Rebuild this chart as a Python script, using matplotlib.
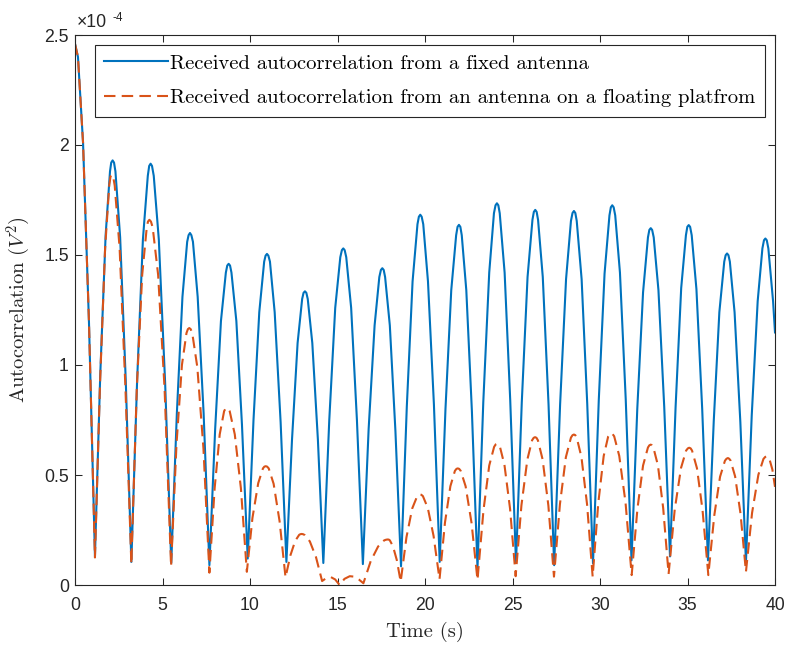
import numpy as np
import matplotlib
matplotlib.use('Agg')
import matplotlib.pyplot as plt

# ── data (values in units of 1e-4 V^2) ─────────────────────
blue_time = [0.00, 0.17, 0.46, 0.80, 1.14, 1.44, 1.75, 2.00, 2.07, 2.15, 2.23, 2.31, 2.58, 2.90,
             3.22, 3.55, 3.88, 4.16, 4.24, 4.32, 4.40, 4.50, 4.79, 5.15,
             5.50, 5.82, 6.14, 6.41, 6.49, 6.57, 6.65, 6.74, 7.01, 7.35,
             7.68, 8.01, 8.34, 8.62, 8.70, 8.78, 8.86, 8.94, 9.22, 9.54,
             9.87, 10.20, 10.53, 10.81, 10.89, 10.97, 11.05, 11.14, 11.41, 11.75,
             12.08, 12.40, 12.72, 12.98, 13.06, 13.14, 13.22, 13.30, 13.56, 13.88,
             14.19, 14.53, 14.87, 15.16, 15.25, 15.33, 15.41, 15.50, 15.78, 16.11,
             16.45, 16.78, 17.12, 17.39, 17.48, 17.56, 17.64, 17.72, 17.99, 18.31,
             18.63, 18.96, 19.29, 19.57, 19.65, 19.73, 19.81, 19.90, 20.17, 20.51,
             20.84, 21.17, 21.50, 21.78, 21.86, 21.94, 22.02, 22.10, 22.36, 22.68,
             23.00, 23.33, 23.67, 23.94, 24.03, 24.11, 24.19, 24.27, 24.55, 24.87,
             25.20, 25.53, 25.86, 26.14, 26.22, 26.30, 26.38, 26.46, 26.73, 27.06,
             27.38, 27.72, 28.06, 28.34, 28.43, 28.51, 28.59, 28.67, 28.95, 29.27,
             29.60, 29.93, 30.26, 30.54, 30.62, 30.70, 30.78, 30.87, 31.14, 31.47,
             31.80, 32.13, 32.46, 32.74, 32.82, 32.90, 32.98, 33.07, 33.34, 33.67,
             34.00, 34.32, 34.64, 34.91, 34.99, 35.07, 35.15, 35.24, 35.51, 35.84,
             36.17, 36.50, 36.82, 37.10, 37.18, 37.26, 37.34, 37.42, 37.69, 38.02,
             38.34, 38.67, 39.01, 39.28, 39.37, 39.45, 39.53, 39.62, 39.89, 40.00]
blue_val = [2.46, 2.40, 2.01, 1.19, 0.13, 0.95, 1.59, 1.88, 1.92, 1.93, 1.92, 1.88, 1.58, 0.93,
            0.105, 0.93, 1.57, 1.86, 1.905, 1.915, 1.905, 1.86, 1.57, 0.92,
            0.10, 0.78, 1.31, 1.56, 1.59, 1.60, 1.59, 1.56, 1.31, 0.78,
            0.09, 0.71, 1.20, 1.42, 1.452, 1.46, 1.452, 1.42, 1.20, 0.73,
            0.12, 0.75, 1.24, 1.47, 1.497, 1.505, 1.497, 1.47, 1.24, 0.74,
            0.105, 0.66, 1.10, 1.30, 1.328, 1.335, 1.328, 1.30, 1.10, 0.66,
            0.10, 0.75, 1.26, 1.49, 1.522, 1.53, 1.522, 1.49, 1.26, 0.75,
            0.095, 0.71, 1.18, 1.40, 1.432, 1.44, 1.432, 1.40, 1.18, 0.70,
            0.085, 0.81, 1.38, 1.64, 1.674, 1.683, 1.674, 1.64, 1.38, 0.82,
            0.105, 0.80, 1.34, 1.59, 1.628, 1.637, 1.628, 1.59, 1.34, 0.79,
            0.078, 0.83, 1.42, 1.69, 1.726, 1.735, 1.726, 1.69, 1.42, 0.84,
            0.10, 0.83, 1.40, 1.66, 1.696, 1.705, 1.696, 1.66, 1.40, 0.82,
            0.09, 0.82, 1.39, 1.655, 1.691, 1.70, 1.691, 1.655, 1.39, 0.825,
            0.098, 0.84, 1.415, 1.68, 1.717, 1.726, 1.717, 1.68, 1.42, 0.845,
            0.112, 0.80, 1.33, 1.58, 1.614, 1.622, 1.614, 1.58, 1.34, 0.81,
            0.13, 0.81, 1.35, 1.59, 1.628, 1.636, 1.628, 1.59, 1.345, 0.80,
            0.112, 0.745, 1.24, 1.47, 1.499, 1.507, 1.499, 1.47, 1.24, 0.74,
            0.105, 0.77, 1.29, 1.53, 1.567, 1.575, 1.567, 1.53, 1.29, 1.148]

orange_time = [0.00, 0.17, 0.46, 0.80, 1.14, 1.43, 1.72, 1.96, 2.03, 2.10, 2.18, 2.27, 2.55, 2.88,
               3.22, 3.53, 3.84, 4.10, 4.17, 4.25, 4.34, 4.44, 4.75, 5.12,
               5.49, 5.80, 6.11, 6.37, 6.45, 6.53, 6.61, 6.70, 6.99, 7.34,
               7.68, 7.98, 8.27, 8.52, 8.60, 8.67, 8.75, 8.84, 9.13, 9.48,
               9.82, 10.14, 10.47, 10.74, 10.82, 10.90, 10.98, 11.07, 11.35, 11.69,
               12.03, 12.31, 12.58, 12.81, 12.88, 12.95, 13.03, 13.13, 13.42, 13.77,
               14.12, 14.37, 14.62, 14.87, 15.12, 15.40, 15.70, 15.95, 16.22,
               16.48, 16.90, 17.32, 17.67, 17.78, 17.88, 17.94, 17.99, 18.17, 18.39,
               18.61, 18.94, 19.27, 19.55, 19.63, 19.71, 19.79, 19.88, 20.16, 20.49,
               20.83, 21.14, 21.45, 21.71, 21.80, 21.87, 21.95, 22.04, 22.32, 22.66,
               23.00, 23.34, 23.67, 23.95, 24.04, 24.12, 24.20, 24.28, 24.54, 24.86,
               25.18, 25.51, 25.85, 26.12, 26.21, 26.29, 26.37, 26.45, 26.72, 27.05,
               27.37, 27.71, 28.05, 28.34, 28.43, 28.51, 28.59, 28.67, 28.94, 29.26,
               29.58, 29.90, 30.21, 30.47, 30.56, 30.63, 30.71, 30.81, 31.10, 31.46,
               31.81, 32.14, 32.46, 32.74, 32.82, 32.90, 32.97, 33.05, 33.31, 33.61,
               33.92, 34.27, 34.63, 34.92, 35.02, 35.10, 35.18, 35.26, 35.54, 35.86,
               36.19, 36.53, 36.86, 37.14, 37.23, 37.31, 37.38, 37.46, 37.72, 38.03,
               38.34, 38.69, 39.05, 39.34, 39.44, 39.52, 39.60, 39.68, 39.85, 40.00]
orange_val = [2.46, 2.40, 2.01, 1.19, 0.125, 0.915, 1.53, 1.82, 1.857, 1.865, 1.857, 1.815, 1.53, 0.90,
              0.095, 0.89, 1.41, 1.625, 1.652, 1.66, 1.652, 1.625, 1.41, 0.89,
              0.085, 0.64, 1.00, 1.145, 1.163, 1.168, 1.163, 1.145, 0.99, 0.62,
              0.056, 0.44, 0.685, 0.79, 0.802, 0.805, 0.802, 0.79, 0.685, 0.44,
              0.06, 0.305, 0.463, 0.53, 0.538, 0.54, 0.538, 0.53, 0.46, 0.29,
              0.035, 0.135, 0.20, 0.228, 0.231, 0.232, 0.231, 0.227, 0.198, 0.127,
              0.018, 0.032, 0.036, 0.025, 0.0, 0.028, 0.04, 0.038, 0.025,
              0.008, 0.109, 0.175, 0.203, 0.206, 0.207, 0.206, 0.203, 0.176, 0.113,
              0.015, 0.217, 0.348, 0.403, 0.410, 0.412, 0.410, 0.404, 0.35, 0.223,
              0.026, 0.283, 0.449, 0.519, 0.528, 0.53, 0.528, 0.519, 0.449, 0.282,
              0.023, 0.339, 0.543, 0.628, 0.639, 0.642, 0.639, 0.629, 0.546, 0.347,
              0.04, 0.362, 0.571, 0.658, 0.669, 0.672, 0.669, 0.658, 0.571, 0.361,
              0.038, 0.367, 0.581, 0.67, 0.681, 0.684, 0.681, 0.67, 0.581, 0.367,
              0.038, 0.371, 0.586, 0.676, 0.687, 0.69, 0.687, 0.676, 0.587, 0.374,
              0.045, 0.347, 0.543, 0.625, 0.635, 0.638, 0.635, 0.625, 0.544, 0.35,
              0.05, 0.343, 0.532, 0.611, 0.621, 0.624, 0.621, 0.611, 0.531, 0.34,
              0.045, 0.316, 0.492, 0.565, 0.574, 0.577, 0.574, 0.566, 0.494, 0.324,
              0.06, 0.328, 0.501, 0.573, 0.582, 0.585, 0.582, 0.573, 0.525, 0.446]

x_ticks = [0, 5, 10, 15, 20, 25, 30, 35, 40]
y_ticks = [0, 0.5, 1, 1.5, 2, 2.5]

label_fixed = 'Received autocorrelation from a fixed antenna'
label_float = 'Received autocorrelation from an antenna on a floating platfrom'

# ── style ──────────────────────────────────────────────────
BLUE = '#0072BD'
ORANGE = '#D95319'
AXC = '#262626'
TICK_FS = 12.7
LABEL_FS = 14.8
plt.rcParams['mathtext.fontset'] = 'cm'
plt.rcParams['axes.unicode_minus'] = False

fig = plt.figure(figsize=(7.88, 6.45), dpi=100)
ax = fig.add_axes([75 / 788, 1 - 585 / 645, 700 / 788, 550 / 645])

ax.plot(blue_time, blue_val, color=BLUE, lw=1.5, label=label_fixed)
ax.plot(orange_time, orange_val, color=ORANGE, lw=1.5,
        linestyle=(0, (5.5, 3)), label=label_float)

ax.set_xlim(0, 40)
ax.set_ylim(0, 2.5)
ax.set_xticks(x_ticks)
ax.set_yticks(y_ticks)
ax.set_xticklabels([f'{v:g}' for v in x_ticks], family='Liberation Sans', fontsize=TICK_FS)
ax.set_yticklabels([f'{v:g}' for v in y_ticks], family='Liberation Sans', fontsize=TICK_FS)
ax.tick_params(direction='in', length=5, width=0.75, colors=AXC,
               top=True, right=True)
ax.tick_params(axis='x', pad=9)
ax.tick_params(axis='y', pad=4.5)
for sp in ax.spines.values():
    sp.set_color(AXC)
    sp.set_linewidth(0.8)

ax.set_xlabel('Time (s)', family='cmr10', fontsize=LABEL_FS, color=AXC, labelpad=5)
ax.set_ylabel('Autocorrelation ($V^2$)', family='cmr10', fontsize=LABEL_FS,
              color=AXC, labelpad=8)

# exponent label, MATLAB style
fig.text(77 / 788, 1 - 27.3 / 645, '\u00d710', family='Liberation Sans',
         fontsize=TICK_FS, color=AXC, ha='left', va='baseline')
fig.text(112 / 788, 1 - 20.7 / 645, '-4', family='Liberation Sans',
         fontsize=8.5, color=AXC, ha='left', va='baseline')

leg = ax.legend(loc='upper left', bbox_to_anchor=(20 / 700, 1 - 10 / 550),
                borderaxespad=0, fancybox=False, framealpha=1,
                edgecolor=AXC, handlelength=3.1, handletextpad=0.1,
                labelspacing=0.8, borderpad=0.45,
                prop={'family': 'cmr10', 'size': LABEL_FS})
leg.get_frame().set_linewidth(0.8)

fig.savefig('out.png', dpi=100)
